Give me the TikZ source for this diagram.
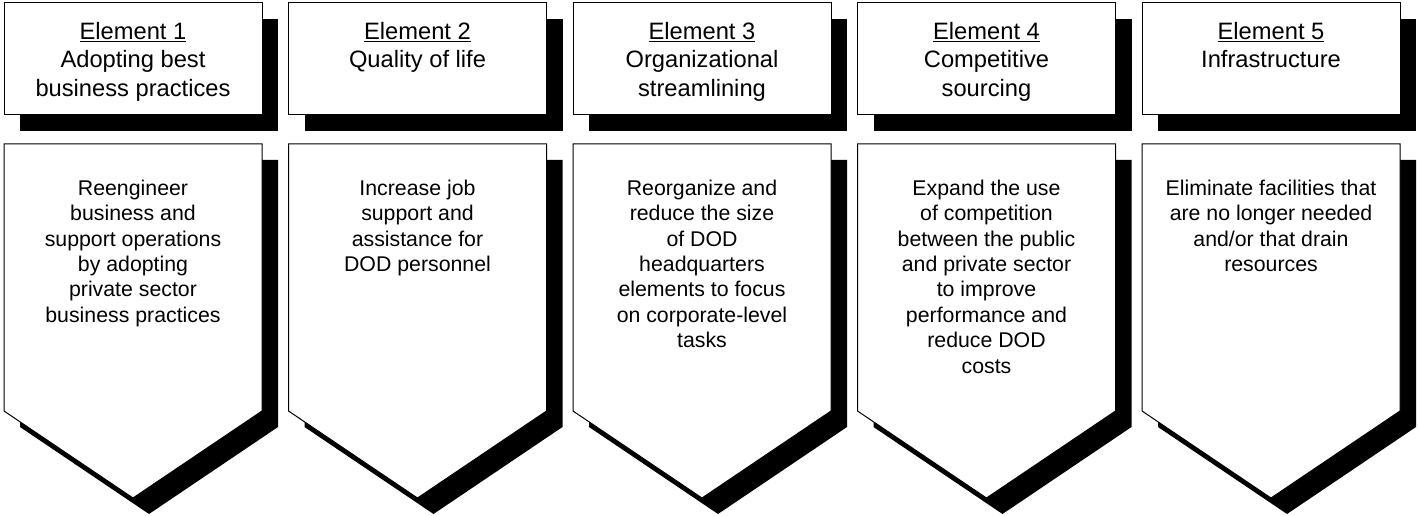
\documentclass[tikz,border=0pt]{standalone}
\usepackage{fontspec}
\setmainfont{Liberation Sans}
\usetikzlibrary{calc}

\begin{document}
\begin{tikzpicture}[
    x=1pt, y=-1pt,
    % Styles for boxes, shadows and texts
    box/.style={draw=black, line width=1pt, fill=white},
    shade/.style={fill=black},
    headtxt/.style={align=center, anchor=north, inner sep=0pt,
        font=\fontsize{23.7}{28.5}\selectfont},
    bodytxt/.style={align=center, anchor=north, inner sep=0pt,
        font=\fontsize{21.3}{25.4}\selectfont}
]

    % Frame of the picture
    \useasboundingbox (0,0) rectangle (1419,516);

    % Column corners

    \coordinate (C1) at (4,3);
    \coordinate (C2) at (288.5,3);
    \coordinate (C3) at (573,3);
    \coordinate (C4) at (857.5,3);
    \coordinate (C5) at (1142,3);


    % Boxes

    %% Header box and arrow box of each column, with their shadows
    \foreach \c in {C1,C2,C3,C4,C5} {
        \fill[shade] ($(\c)+(16,16)$) rectangle ++(258,112);
        \filldraw[box] (\c) rectangle ++(258,112);
        \fill[shade] ($(\c)+(16,157)$) -- ++(0,267) -- ++(129,87)
            -- ++(129,-87) -- ++(0,-267) -- cycle;
        \filldraw[box] ($(\c)+(0,141)$) -- ++(0,267) -- ++(129,87)
            -- ++(129,-87) -- ++(0,-267) -- cycle;
    }


    % Texts

    %% Headers
    \node[headtxt] (H1) at ($(C1)+(129,19)$)
        {\underline{Element 1}\\Adopting best\\business practices};
    \node[headtxt] (H2) at ($(C2)+(129,19)$)
        {\underline{Element 2}\\Quality of life};
    \node[headtxt] (H3) at ($(C3)+(129,19)$)
        {\underline{Element 3}\\Organizational\\streamlining};
    \node[headtxt] (H4) at ($(C4)+(129,19)$)
        {\underline{Element 4}\\Competitive\\sourcing};
    \node[headtxt] (H5) at ($(C5)+(129,19)$)
        {\underline{Element 5}\\Infrastructure};

    %% Arrow boxes
    \node[bodytxt] (B1) at ($(C1)+(129,176.7)$)
        {Reengineer\\business and\\support operations\\by adopting\\private sector\\business practices};
    \node[bodytxt] (B2) at ($(C2)+(129,176.7)$)
        {Increase job\\support and\\assistance for\\DOD personnel};
    \node[bodytxt] (B3) at ($(C3)+(129,176.7)$)
        {Reorganize and\\reduce the size\\of DOD\\headquarters\\elements to focus\\on corporate-level\\tasks};
    \node[bodytxt] (B4) at ($(C4)+(129,176.7)$)
        {Expand the use\\of competition\\between the public\\and private sector\\to improve\\performance and\\reduce DOD\\costs};
    \node[bodytxt] (B5) at ($(C5)+(129,176.7)$)
        {Eliminate facilities that\\are no longer needed\\and/or that drain\\resources};

\end{tikzpicture}
\end{document}
